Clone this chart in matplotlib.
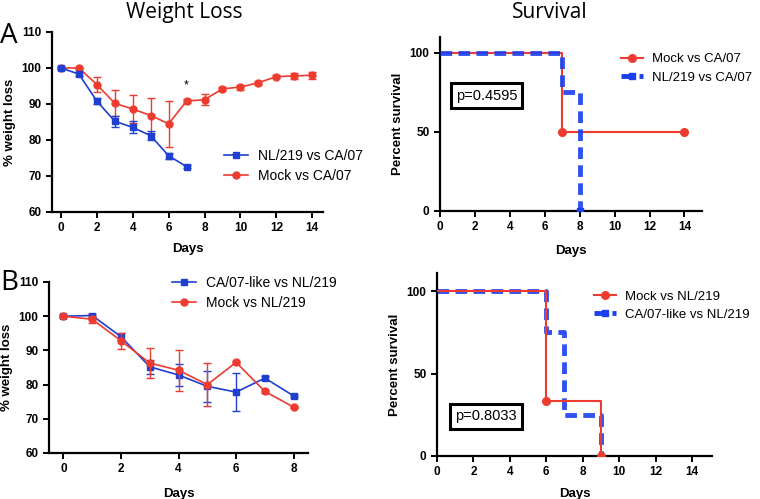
import matplotlib.pyplot as plt
from matplotlib.lines import Line2D

plt.rcParams['font.family'] = ['Liberation Sans', 'DejaVu Sans']

# --- Panel A: weight loss ---
a_days_nl = [0, 1, 2, 3, 4, 5, 6, 7]
a_nl = [100, 98.3, 90.8, 85.2, 83.5, 81.2, 75.6, 72.6]
a_nl_err = [0.3, 0.5, 0.8, 1.5, 1.7, 1.2, 0.9, 0.5]

a_days_mock = list(range(15))
a_mock = [100, 100, 95.4, 90.2, 88.6, 86.8, 84.5, 90.8, 91.2, 94.2, 94.7, 95.9, 97.6, 97.8, 98.0]
a_mock_err = [0.3, 0.4, 2.0, 3.6, 4.0, 4.8, 6.4, 0.5, 1.6, 0.5, 0.7, 0.5, 0.4, 0.8, 1.0]

# --- Panel B: weight loss ---
b_days = [0, 1, 2, 3, 4, 5, 6, 7, 8]
b_ca = [100, 100.2, 94.0, 85.2, 82.8, 79.5, 77.8, 81.9, 76.7]
b_ca_err = [0.3, 0.4, 1.0, 2.0, 3.3, 4.5, 5.5, 0.5, 0.4]
b_mock = [100, 99.1, 92.8, 86.3, 84.2, 80.0, 86.5, 78.0, 73.4]
b_mock_err = [0.3, 1.0, 2.3, 4.4, 6.0, 6.4, 0.4, 0.4, 0.3]

# --- Survival step data ---
sa_mock_t = [0, 7, 14]
sa_mock_s = [100, 50, 50]
sa_nl_t = [0, 7, 8]
sa_nl_s = [100, 75, 0]
sb_mock_t = [0, 6, 9]
sb_mock_s = [100, 33.3, 0]
sb_ca_t = [0, 6, 7, 9]
sb_ca_s = [100, 75, 25, 0]

p_a = 'p=0.4595'
p_b = 'p=0.8033'

RED = '#ee3b2f'
BLUE = '#1f3fd0'
BLUE_S = '#1a3ff0'
DASH = (0, (2.4, 1.3))

fig = plt.figure(figsize=(7.6, 4.99), dpi=100)

ax_a = fig.add_axes([0.0684, 0.5752, 0.3566, 0.3607])
ax_sa = fig.add_axes([0.5789, 0.5772, 0.3447, 0.3487])
ax_b = fig.add_axes([0.0645, 0.0922, 0.3408, 0.3427])
ax_sb = fig.add_axes([0.575, 0.0862, 0.3618, 0.3667])


def style(ax):
    for s in ['top', 'right']:
        ax.spines[s].set_visible(False)
    for s in ['left', 'bottom']:
        ax.spines[s].set_linewidth(1.6)
    ax.tick_params(width=1.4, length=4, labelsize=8.5)
    for lab in ax.get_xticklabels() + ax.get_yticklabels():
        lab.set_fontweight('bold')


def line_handle(color, marker):
    return Line2D([], [], color=color, marker=marker, ms=5, lw=1.2)


LEG = dict(frameon=False, handlelength=1.7, handletextpad=0.7, labelspacing=0.45,
           borderpad=0.3, borderaxespad=0)

# Weight A
ax_a.errorbar(a_days_nl, a_nl, yerr=a_nl_err, color=BLUE, marker='s', ms=5,
              lw=1.2, capsize=3, elinewidth=1, zorder=3)
ax_a.errorbar(a_days_mock, a_mock, yerr=a_mock_err, color=RED, marker='o', ms=5,
              lw=1.2, capsize=3, elinewidth=1, zorder=2)
ax_a.text(7, 93.6, '*', ha='center', va='bottom', fontsize=9)
ax_a.set_xlim(-0.5, 14.6)
ax_a.set_ylim(60, 110)
ax_a.set_xticks(range(0, 15, 2))
ax_a.set_yticks(range(60, 111, 10))
ax_a.set_xlabel('Days', fontweight='bold', fontsize=9.5, labelpad=6)
ax_a.set_ylabel('% weight loss', fontweight='bold', fontsize=9.5)
ax_a.legend([line_handle(BLUE, 's'), line_handle(RED, 'o')],
            ['NL/219 vs CA/07', 'Mock vs CA/07'],
            loc='upper left', bbox_to_anchor=(0.62, 0.375), fontsize=10, **LEG)
style(ax_a)

# Weight B
ax_b.errorbar(b_days, b_ca, yerr=b_ca_err, color=BLUE, marker='s', ms=5,
              lw=1.2, capsize=3, elinewidth=1, zorder=2)
ax_b.errorbar(b_days, b_mock, yerr=b_mock_err, color=RED, marker='o', ms=5,
              lw=1.2, capsize=3, elinewidth=1, zorder=3)
ax_b.set_xlim(-0.5, 8.5)
ax_b.set_ylim(60, 110)
ax_b.set_xticks(range(0, 9, 2))
ax_b.set_yticks(range(60, 111, 10))
ax_b.set_xlabel('Days', fontweight='bold', fontsize=9.5, labelpad=9)
ax_b.set_ylabel('% weight loss', fontweight='bold', fontsize=9.5)
ax_b.legend([line_handle(BLUE, 's'), line_handle(RED, 'o')],
            ['CA/07-like vs NL/219', 'Mock vs NL/219'],
            loc='upper left', bbox_to_anchor=(0.46, 1.06), fontsize=10, **LEG)
style(ax_b)

# Survival A
ax_sa.step(sa_mock_t, sa_mock_s, where='post', color=RED, lw=1.5, zorder=2)
ax_sa.plot(sa_mock_t[1:], sa_mock_s[1:], 'o', color=RED, ms=5.5, zorder=4)
ax_sa.step(sa_nl_t, sa_nl_s, where='post', color=BLUE_S, lw=3.5, ls=DASH, alpha=0.9, zorder=3)
ax_sa.plot(sa_nl_t[-1:], sa_nl_s[-1:], 's', color=BLUE_S, ms=5, zorder=4)
h1 = Line2D([], [], color=RED, marker='o', lw=1.5, ms=5.5)
h2 = Line2D([], [], color=BLUE_S, lw=3.5, ls=DASH, marker='s', ms=5)
ax_sa.legend([h1, h2], ['Mock vs CA/07', 'NL/219 vs CA/07'], loc='upper left',
             bbox_to_anchor=(0.675, 0.93), fontsize=9.5, **LEG)
ax_sa.text(0.9, 73, p_a, fontsize=10.5, va='center',
           bbox=dict(boxstyle='square,pad=0.35', fc='white', ec='black', lw=2.2))
ax_sa.set_xlim(0, 15)
ax_sa.set_ylim(0, 110)
ax_sa.set_xticks(range(0, 15, 2))
ax_sa.set_yticks([0, 50, 100])
ax_sa.set_xlabel('Days', fontweight='bold', fontsize=9.5, labelpad=8)
ax_sa.set_ylabel('Percent survival', fontweight='bold', fontsize=9.5)
style(ax_sa)

# Survival B
ax_sb.step(sb_mock_t, sb_mock_s, where='post', color=RED, lw=1.5, zorder=3)
ax_sb.plot(sb_mock_t[1:], sb_mock_s[1:], 'o', color=RED, ms=5.5, zorder=4)
ax_sb.step(sb_ca_t, sb_ca_s, where='post', color=BLUE_S, lw=3.5, ls=DASH, alpha=0.9, zorder=2)
h1 = Line2D([], [], color=RED, marker='o', lw=1.5, ms=5.5)
h2 = Line2D([], [], color=BLUE_S, lw=3.5, ls=DASH, marker='s', ms=5)
ax_sb.legend([h1, h2], ['Mock vs NL/219', 'CA/07-like vs NL/219'], loc='upper left',
             bbox_to_anchor=(0.555, 0.925), fontsize=9.5, **LEG)
ax_sb.text(1.0, 24, p_b, fontsize=10.5, va='center',
           bbox=dict(boxstyle='square,pad=0.35', fc='white', ec='black', lw=2.2))
ax_sb.set_xlim(0, 15.1)
ax_sb.set_ylim(0, 111)
ax_sb.set_xticks(range(0, 15, 2))
ax_sb.set_yticks([0, 50, 100])
ax_sb.set_xlabel('Days', fontweight='bold', fontsize=9.5, labelpad=7)
ax_sb.set_ylabel('Percent survival', fontweight='bold', fontsize=9.5)
style(ax_sb)

# titles and panel letters
fig.text(0.243, 0.995, 'Weight Loss', ha='center', va='top', fontsize=15,
         family=['Open Sans', 'DejaVu Sans'])
fig.text(0.724, 0.995, 'Survival', ha='center', va='top', fontsize=15,
         family=['Open Sans', 'DejaVu Sans'])
fig.text(0.0, 0.955, 'A', ha='left', va='top', fontsize=20,
         family=['Open Sans', 'DejaVu Sans'])
fig.text(0.0, 0.46, 'B', ha='left', va='top', fontsize=20,
         family=['Open Sans', 'DejaVu Sans'])

fig.savefig('out.png', dpi=100)
